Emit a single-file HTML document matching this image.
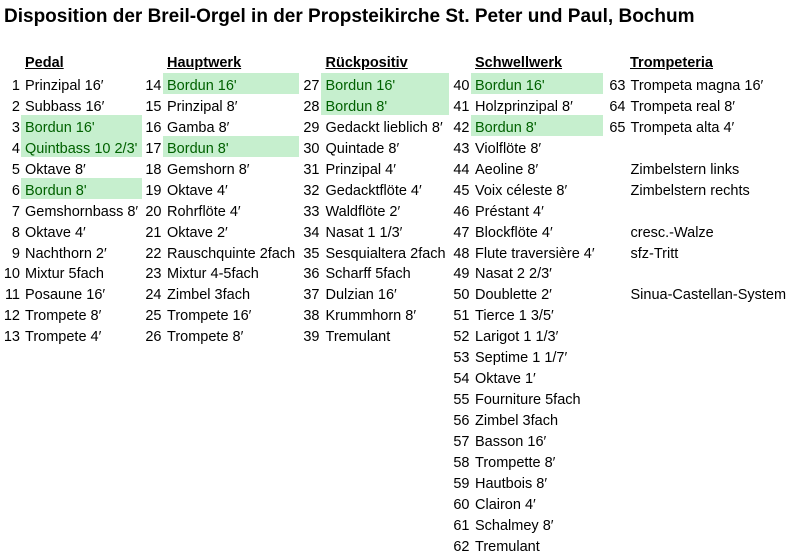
<!DOCTYPE html>
<html><head><meta charset="utf-8"><style>
html,body{margin:0;padding:0;background:#fff;}
body{width:792px;height:559px;position:relative;overflow:hidden;font-family:"Liberation Sans",Arial,sans-serif;color:#000;}
.title{position:absolute;left:4px;top:7px;font-size:19px;line-height:19px;font-weight:bold;white-space:nowrap;}
.hdr{position:absolute;top:52.5px;font-size:14.5px;line-height:21px;font-weight:bold;text-decoration:underline;white-space:nowrap;}
.col{position:absolute;top:76px;font-size:14.5px;line-height:20.95px;white-space:nowrap;}
.num{text-align:right;}
.col div{height:20.95px;}
.g{color:#006100;}
.bx{position:absolute;background:#c6efce;}
</style></head><body>
<div class="title">Disposition der Breil-Orgel in der Propsteikirche St. Peter und Paul, Bochum</div>

<!-- green boxes -->
<div class="bx" style="left:21px;width:121px;top:115px;height:42px;"></div>
<div class="bx" style="left:21px;width:121px;top:177.8px;height:21px;"></div>
<div class="bx" style="left:163px;width:136px;top:73px;height:21px;"></div>
<div class="bx" style="left:163px;width:136px;top:135.9px;height:21px;"></div>
<div class="bx" style="left:321px;width:128px;top:73px;height:42px;"></div>
<div class="bx" style="left:471px;width:132px;top:73px;height:21px;"></div>
<div class="bx" style="left:471px;width:132px;top:114.9px;height:21px;"></div>

<!-- headers -->
<div class="hdr" style="left:25px;">Pedal</div>
<div class="hdr" style="left:167px;">Hauptwerk</div>
<div class="hdr" style="left:325.5px;">Rückpositiv</div>
<div class="hdr" style="left:475px;">Schwellwerk</div>
<div class="hdr" style="left:630px;">Trompeteria</div>

<!-- Pedal -->
<div class="col num" style="left:0;width:20px;">
<div>1</div><div>2</div><div>3</div><div>4</div><div>5</div><div>6</div><div>7</div><div>8</div><div>9</div><div>10</div><div>11</div><div>12</div><div>13</div>
</div>
<div class="col" style="left:25px;">
<div>Prinzipal 16′</div><div>Subbass 16′</div><div class="g">Bordun 16'</div><div class="g">Quintbass 10 2/3'</div><div>Oktave 8′</div><div class="g">Bordun 8'</div><div>Gemshornbass 8′</div><div>Oktave 4′</div><div>Nachthorn 2′</div><div>Mixtur 5fach</div><div>Posaune 16′</div><div>Trompete 8′</div><div>Trompete 4′</div>
</div>

<!-- Hauptwerk -->
<div class="col num" style="left:130px;width:31.5px;">
<div>14</div><div>15</div><div>16</div><div>17</div><div>18</div><div>19</div><div>20</div><div>21</div><div>22</div><div>23</div><div>24</div><div>25</div><div>26</div>
</div>
<div class="col" style="left:167px;">
<div class="g">Bordun 16'</div><div>Prinzipal 8′</div><div>Gamba 8′</div><div class="g">Bordun 8'</div><div>Gemshorn 8′</div><div>Oktave 4′</div><div>Rohrflöte 4′</div><div>Oktave 2′</div><div>Rauschquinte 2fach</div><div>Mixtur 4-5fach</div><div>Zimbel 3fach</div><div>Trompete 16′</div><div>Trompete 8′</div>
</div>

<!-- Rückpositiv -->
<div class="col num" style="left:290px;width:29.5px;">
<div>27</div><div>28</div><div>29</div><div>30</div><div>31</div><div>32</div><div>33</div><div>34</div><div>35</div><div>36</div><div>37</div><div>38</div><div>39</div>
</div>
<div class="col" style="left:325.5px;">
<div class="g">Bordun 16'</div><div class="g">Bordun 8'</div><div>Gedackt lieblich 8′</div><div>Quintade 8′</div><div>Prinzipal 4′</div><div>Gedacktflöte 4′</div><div>Waldflöte 2′</div><div>Nasat 1 1/3′</div><div>Sesquialtera 2fach</div><div>Scharff 5fach</div><div>Dulzian 16′</div><div>Krummhorn 8′</div><div>Tremulant</div>
</div>

<!-- Schwellwerk -->
<div class="col num" style="left:440px;width:29.5px;">
<div>40</div><div>41</div><div>42</div><div>43</div><div>44</div><div>45</div><div>46</div><div>47</div><div>48</div><div>49</div><div>50</div><div>51</div><div>52</div><div>53</div><div>54</div><div>55</div><div>56</div><div>57</div><div>58</div><div>59</div><div>60</div><div>61</div><div>62</div>
</div>
<div class="col" style="left:475px;">
<div class="g">Bordun 16'</div><div>Holzprinzipal 8′</div><div class="g">Bordun 8'</div><div>Violflöte 8′</div><div>Aeoline 8′</div><div>Voix céleste 8′</div><div>Préstant 4′</div><div>Blockflöte 4′</div><div>Flute traversière 4′</div><div>Nasat 2 2/3′</div><div>Doublette 2′</div><div>Tierce 1 3/5′</div><div>Larigot 1 1/3′</div><div>Septime 1 1/7′</div><div>Oktave 1′</div><div>Fourniture 5fach</div><div>Zimbel 3fach</div><div>Basson 16′</div><div>Trompette 8′</div><div>Hautbois 8′</div><div>Clairon 4′</div><div>Schalmey 8′</div><div>Tremulant</div>
</div>

<!-- Trompeteria -->
<div class="col num" style="left:596px;width:29.5px;">
<div>63</div><div>64</div><div>65</div>
</div>
<div class="col" style="left:630.5px;">
<div>Trompeta magna 16′</div><div>Trompeta real 8′</div><div>Trompeta alta 4′</div><div>&nbsp;</div><div>Zimbelstern links</div><div>Zimbelstern rechts</div><div>&nbsp;</div><div>cresc.-Walze</div><div>sfz-Tritt</div><div>&nbsp;</div><div>Sinua-Castellan-System</div>
</div>
</body></html>
